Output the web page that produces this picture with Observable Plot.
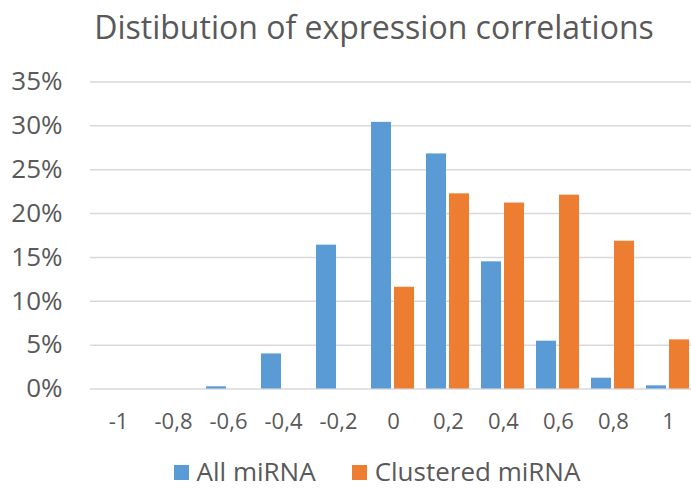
<!DOCTYPE html>
<html>
<head>
<meta charset="utf-8">
<script src="https://cdn.jsdelivr.net/npm/d3@7"></script>
<script src="https://cdn.jsdelivr.net/npm/@observablehq/plot@0.6"></script>
<style>
  html, body { margin: 0; padding: 0; background: #fff; overflow: hidden; }
  body { width: 691px; height: 490px; font-family: "Open Sans", sans-serif; color: #595959; }
  #title { width: 748px; text-align: center; font-size: 32px; height: 58px; line-height: 54px; white-space: nowrap; }
  #legend { width: 754px; display: flex; justify-content: center; align-items: flex-start; font-size: 26px; line-height: 28px; height: 33px; padding-top: 14px; white-space: nowrap; }
  .item { display: flex; align-items: center; height: 28px; }
  .sw { width: 15px; height: 15px; margin-right: 8px; position: relative; top: 1px; }
  .gap { width: 36px; }
</style>
</head>
<body>
<div id="title">Distibution of expression correlations</div>
<div id="chart"></div>
<div id="legend"></div>
<script>
const categories = ["-1", "-0,8", "-0,6", "-0,4", "-0,2", "0", "0,2", "0,4", "0,6", "0,8", "1"];
const allMiRNA = [0, 0, 0.0025, 0.040, 0.164, 0.304, 0.268, 0.145, 0.0545, 0.0123, 0.0036];
const clusteredMiRNA = [0, 0, 0, 0, 0, 0.116, 0.2225, 0.212, 0.221, 0.1685, 0.056];
const seriesNames = ["All miRNA", "Clustered miRNA"];
const seriesColors = ["#5B9BD5", "#ED7D31"];
const yTicks = [0, 0.05, 0.10, 0.15, 0.20, 0.25, 0.30, 0.35];

const allData = categories.map((c, i) => ({cat: c, value: allMiRNA[i]}));
const clusData = categories.map((c, i) => ({cat: c, value: clusteredMiRNA[i]}));

const chart = Plot.plot({
  width: 691,
  height: 385,
  marginLeft: 90,
  marginRight: -5,
  marginTop: 23.5,
  marginBottom: 54.5,
  style: {fontFamily: "'Open Sans', sans-serif", fontSize: "22px", color: "#595959", background: "white", overflow: "visible"},
  x: {domain: categories, paddingInner: 0.637, paddingOuter: 0.3185, label: null, tickSize: 0, tickPadding: 24},
  y: {domain: [0, 0.35], ticks: yTicks, tickFormat: d => Math.round(d * 100) + "%", label: null, tickSize: 0, tickPadding: 28},
  marks: [
    Plot.ruleY(yTicks, {stroke: "#d9d9d9", strokeWidth: 1.5}),
    Plot.barY(allData, {x: "cat", y: "value", fill: seriesColors[0], dx: -12}),
    Plot.barY(clusData, {x: "cat", y: "value", fill: seriesColors[1], dx: 11})
  ]
});
chart.querySelectorAll("[aria-label='y-axis tick label'] text, g[aria-label='y-axis tick label']").forEach(el => el.setAttribute("font-size", "26px"));
document.getElementById("chart").appendChild(chart);

const legend = document.getElementById("legend");
seriesNames.forEach((name, i) => {
  if (i > 0) { const g = document.createElement("div"); g.className = "gap"; legend.appendChild(g); }
  const item = document.createElement("div");
  item.className = "item";
  const sw = document.createElement("div");
  sw.className = "sw";
  sw.style.background = seriesColors[i];
  const t = document.createElement("span");
  t.textContent = name;
  item.appendChild(sw);
  item.appendChild(t);
  legend.appendChild(item);
});
</script>
</body>
</html>
